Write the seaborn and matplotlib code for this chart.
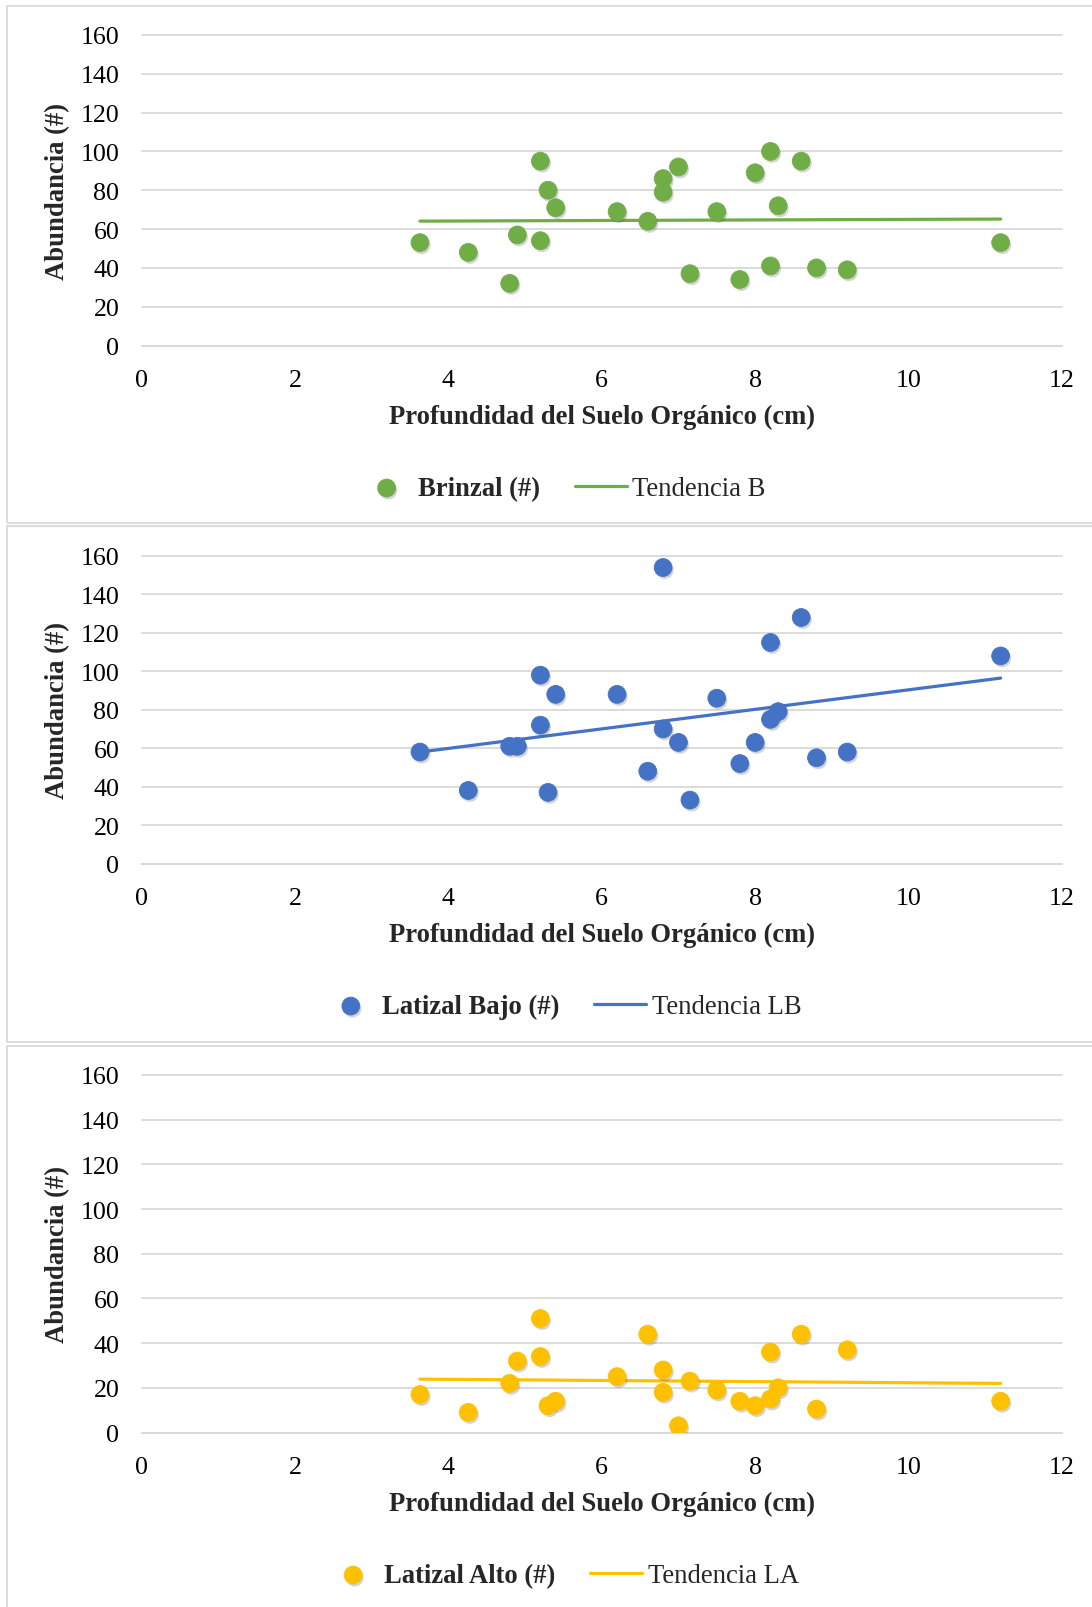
import matplotlib
matplotlib.use("Agg")
import numpy as np
import pandas as pd
import seaborn as sns
import matplotlib.pyplot as plt
import matplotlib.patheffects as pe
from matplotlib.patches import Rectangle

# ---------------- data ----------------
profundidad = [3.63, 4.26, 4.8, 4.9, 5.2, 5.2, 5.3, 5.4, 6.2, 6.6, 6.8, 6.8,
               7.0, 7.15, 7.5, 7.8, 8.0, 8.2, 8.2, 8.3, 8.6, 8.8, 9.2, 11.2]
brinzal = [53, 48, 32, 57, 95, 54, 80, 71, 69, 64, 86, 79,
           92, 37, 69, 34, 89, 100, 41, 72, 95, 40, 39, 53]
latizal_bajo = [58, 38, 61, 61, 98, 72, 37, 88, 88, 48, 154, 70,
                63, 33, 86, 52, 63, 115, 75, 79, 128, 55, 58, 108]
latizal_alto = [17, 9, 22, 32, 51, 34, 12, 14, 25, 44, 28, 18,
                3, 23, 19, 14, 12, 36, 15, 20, 44, 10.5, 37, 14]

series_labels = ["Brinzal (#)", "Latizal Bajo (#)", "Latizal Alto (#)"]
trend_labels = ["Tendencia B", "Tendencia LB", "Tendencia LA"]
x_ticks = [0, 2, 4, 6, 8, 10, 12]
y_ticks = [0, 20, 40, 60, 80, 100, 120, 140, 160]
x_label = "Profundidad del Suelo Orgánico (cm)"
y_label = "Abundancia (#)"
colors = ["#70AD47", "#4472C4", "#FFC000"]

# ---------------- style ----------------
sns.set_theme(style="white")
plt.rcParams["font.family"] = ["Liberation Serif", "DejaVu Serif"]

W, H = 1092, 1608
fig = plt.figure(figsize=(W / 100, H / 100), dpi=100)

def fx(px):
    return px / W

def fy(py):
    return 1 - py / H

# axes pixel boxes: (left, top, right, bottom)
boxes = [(141.5, 36, 1062, 346.5),
         (141.5, 557, 1062, 864.5),
         (141.5, 1076, 1062, 1433.5)]
frames = [(7, 7, 1110, 524), (7, 527, 1110, 1043), (7, 1047, 1110, 1640)]

for fr in frames:
    l, t, r, b = fr
    fig.add_artist(Rectangle((fx(l), fy(b)), fx(r) - fx(l), fy(t) - fy(b),
                             transform=fig.transFigure, fill=False,
                             edgecolor="#D9D9D9", lw=1.3, zorder=0))

all_y = [brinzal, latizal_bajo, latizal_alto]
grid_c = "#D9D9D9"

for i, (yv, col, slab, tlab, box) in enumerate(zip(all_y, colors, series_labels, trend_labels, boxes)):
    l, t, r, b = box
    ax = fig.add_axes([fx(l), fy(b), fx(r) - fx(l), fy(t) - fy(b)])
    df = pd.DataFrame({"x": profundidad, "y": yv})
    sns.scatterplot(data=df, x="x", y="y", ax=ax, color=col, s=165,
                    edgecolor=col, linewidth=0.6, zorder=3, legend=False)
    coll = ax.collections[-1]
    coll.set_path_effects([pe.SimplePatchShadow(offset=(1.2, -1.8), alpha=0.25,
                                                shadow_rgbFace="#555555"),
                           pe.Normal()])
    sns.regplot(data=df, x="x", y="y", ax=ax, scatter=False, ci=None,
                truncate=True, color=col,
                line_kws={"lw": 2.3, "zorder": 2, "solid_capstyle": "round"})
    trend_line = ax.lines[-1]
    ax.set_xlim(0, 12)
    ax.set_ylim(0, 160)
    ax.set_xticks(x_ticks)
    ax.set_yticks(y_ticks)
    ax.tick_params(axis="both", length=0, labelsize=18.7, colors="black")
    ax.tick_params(axis="y", pad=16)
    ax.tick_params(axis="x", pad=17)
    for s in ["top", "right", "left"]:
        ax.spines[s].set_visible(False)
    ax.spines["bottom"].set_color(grid_c)
    ax.spines["bottom"].set_linewidth(1.3)
    ax.yaxis.grid(True, color=grid_c, lw=1.3)
    ax.xaxis.grid(False)
    for gl in ax.get_ygridlines():
        gl.set_clip_on(False)
    ax.set_axisbelow(True)

    hpx = b - t
    wpx = r - l
    ax.set_xlabel(x_label, fontsize=19.2, fontweight="bold")
    ax.xaxis.label.set_va("center")
    ax.xaxis.set_label_coords(0.5, -70.5 / hpx)
    ax.set_ylabel(y_label, fontsize=19.2, fontweight="bold")
    ax.yaxis.label.set_va("center")
    ax.yaxis.set_label_coords((58 - l) / wpx, 0.5)

    leg_y = b + 143
    leg = ax.legend(handles=[coll, trend_line], labels=[slab, tlab],
                    loc="center", bbox_to_anchor=(fx(563), fy(leg_y)),
                    bbox_transform=fig.transFigure, ncol=2, frameon=False,
                    fontsize=19.2, handlelength=1.95, handletextpad=0.2,
                    columnspacing=1.3, borderaxespad=0)
    leg.get_texts()[0].set_fontweight("bold")

fig.savefig("out.png", dpi=100, facecolor="white")
